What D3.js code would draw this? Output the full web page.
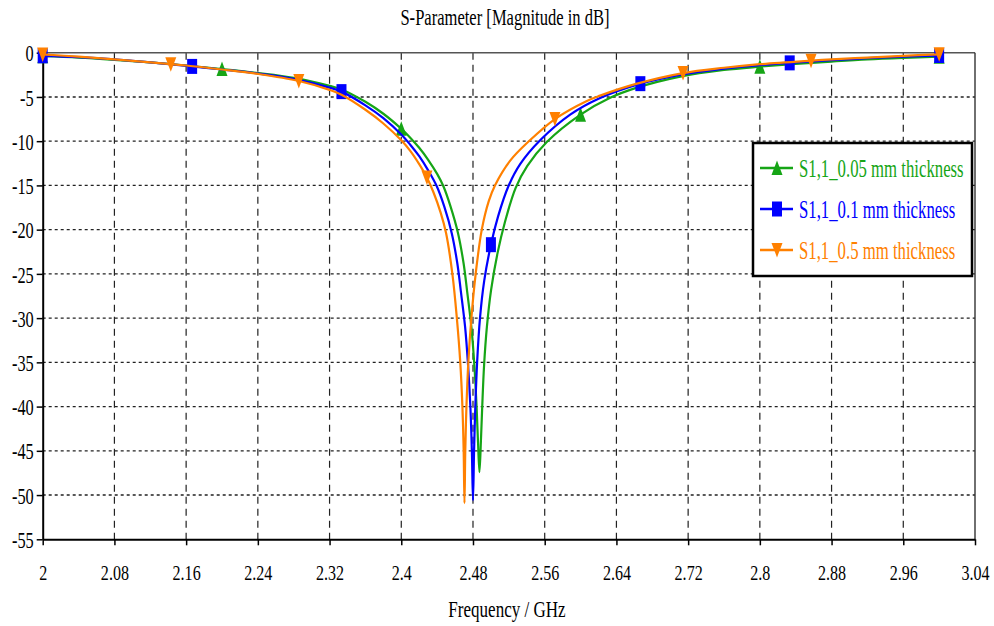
<!DOCTYPE html>
<html>
<head>
<meta charset="utf-8">
<script src="https://cdn.jsdelivr.net/npm/d3@7"></script>
<style>
  html, body { margin: 0; padding: 0; background: #ffffff; }
  svg { display: block; }
  text { font-family: "Liberation Serif", "Times New Roman", "DejaVu Serif", serif; }
</style>
</head>
<body>
<svg id="chart" width="994" height="626"></svg>
<script>
// ---- data -------------------------------------------------------------
const xTicks = [2, 2.08, 2.16, 2.24, 2.32, 2.4, 2.48, 2.56, 2.64, 2.72, 2.8, 2.88, 2.96, 3.04];
const xTickLabels = ["2", "2.08", "2.16", "2.24", "2.32", "2.4", "2.48", "2.56", "2.64", "2.72", "2.8", "2.88", "2.96", "3.04"];
const yTicks = [0, -5, -10, -15, -20, -25, -30, -35, -40, -45, -50, -55];

// S1,1 (dB) for the 0.05 mm substrate
const freq005 = [2.00, 2.04, 2.08, 2.12, 2.16, 2.20, 2.24, 2.28, 2.32, 2.3333, 2.36, 2.38, 2.40, 2.41, 2.42, 2.43, 2.44, 2.447, 2.455, 2.4633, 2.4695, 2.4735, 2.4782, 2.4815, 2.4840, 2.4856, 2.4872,
                 2.4888, 2.4903, 2.4924, 2.4955, 2.5002, 2.5075, 2.5155, 2.5275, 2.5406, 2.5623, 2.60, 2.633, 2.6629, 2.7111, 2.76, 2.80, 2.84, 2.88, 2.92, 2.96, 3.00];
const s11_005 = [-0.4, -0.55, -0.8, -1.1, -1.45, -1.85, -2.3, -2.85, -3.75, -4.15, -5.55, -6.9, -8.6, -9.6, -10.75, -12.1, -13.7, -15.1, -17.4, -20.4, -23.8, -27.0, -31.0, -35.3, -40.0, -44.0, -47.4,
                 -44.0, -40.0, -35.3, -31.0, -26.8, -22.6, -19.2, -15.3, -12.8, -10.1, -7.0, -5.1, -3.95, -2.7, -1.95, -1.58, -1.28, -1.0, -0.75, -0.58, -0.45];
const markers005 = [2.0, 2.2, 2.4, 2.6, 2.8, 3.0];

// S1,1 (dB) for the 0.1 mm substrate
const freq01 = [2.00, 2.04, 2.08, 2.12, 2.1667, 2.20, 2.24, 2.28, 2.32, 2.3333, 2.36, 2.38, 2.40, 2.41, 2.42, 2.43, 2.4396, 2.448, 2.4563, 2.4625, 2.4665, 2.4712, 2.4745, 2.4772, 2.4788, 2.4800,
                2.4812, 2.4826, 2.4846, 2.4878, 2.4925, 2.5000, 2.5080, 2.5195, 2.5326, 2.5549, 2.5884, 2.62, 2.6667, 2.7111, 2.76, 2.80, 2.8333, 2.88, 2.92, 2.96, 3.00];
const s11_01 = [-0.35, -0.5, -0.75, -1.1, -1.55, -1.9, -2.35, -2.95, -3.95, -4.4, -5.95, -7.4, -9.25, -10.4, -11.7, -13.3, -15.1, -17.4, -20.4, -23.8, -27.0, -31.0, -35.3, -40.3, -45.2, -50.6,
                -45.0, -40.0, -35.0, -30.0, -25.8, -21.7, -18.5, -15.1, -12.6, -9.9, -7.0, -5.2, -3.5, -2.5, -1.8, -1.4, -1.15, -0.85, -0.62, -0.45, -0.32];
const markers01 = [2.0, 2.1667, 2.3333, 2.5, 2.6667, 2.8333, 3.0];

// S1,1 (dB) for the 0.5 mm substrate
const freq05 = [2.00, 2.04, 2.08, 2.12, 2.1429, 2.16, 2.20, 2.24, 2.2857, 2.32, 2.3333, 2.36, 2.38, 2.40, 2.41, 2.42, 2.4286, 2.436, 2.444, 2.450, 2.457, 2.462, 2.4658, 2.4682, 2.4696, 2.4705,
                2.4714, 2.4727, 2.4748, 2.4782, 2.4830, 2.4898, 2.4975, 2.5045, 2.5215, 2.5435, 2.5714, 2.607, 2.6218, 2.6629, 2.7143, 2.76, 2.80, 2.8571, 2.88, 2.92, 2.96, 3.00];
const s11_05 = [-0.2, -0.45, -0.75, -1.1, -1.3, -1.45, -1.9, -2.4, -3.2, -4.2, -4.75, -6.45, -8.0, -9.9, -11.1, -12.6, -14.1, -15.8, -18.1, -20.4, -25.0, -30.0, -35.0, -40.0, -45.0, -50.9,
                -45.0, -40.0, -35.0, -30.0, -25.0, -20.0, -16.8, -15.0, -12.2, -9.9, -7.5, -5.45, -4.85, -3.5, -2.3, -1.7, -1.3, -0.9, -0.76, -0.55, -0.35, -0.18];
const markers05 = [2.0, 2.1429, 2.2857, 2.4286, 2.5714, 2.7143, 2.8571, 3.0];

const seriesNames = ["S1,1_0.05 mm thickness", "S1,1_0.1 mm thickness", "S1,1_0.5 mm thickness"];
const seriesColors = ["#16a516", "#0000ff", "#ff8000"];
const seriesShapes = ["up", "square", "down"];

const series = [
  { name: seriesNames[0], color: seriesColors[0], shape: seriesShapes[0], f: freq005, v: s11_005, m: markers005 },
  { name: seriesNames[1], color: seriesColors[1], shape: seriesShapes[1], f: freq01, v: s11_01, m: markers01 },
  { name: seriesNames[2], color: seriesColors[2], shape: seriesShapes[2], f: freq05, v: s11_05, m: markers05 }
];

// ---- layout -----------------------------------------------------------
const svg = d3.select("#chart");
const plot = { left: 42.7, right: 975, top: 52.7, bottom: 539.3 };

const x = d3.scaleLinear().domain([2, 3.04]).range([plot.left, plot.right]);
const y = d3.scaleLinear().domain([0, -55]).range([plot.top, plot.bottom]);

// tall, narrow serif text
function stext(parent, tx, ty, str, size, sx, anchor, color) {
  return parent.append("text")
    .attr("transform", `translate(${tx},${ty}) scale(${sx},1)`)
    .attr("text-anchor", anchor)
    .style("font-size", size + "px")
    .attr("fill", color || "#000")
    .text(str);
}

// title and axis title
stext(svg, 505, 25, "S-Parameter [Magnitude in dB]", 23, 0.72, "middle");
stext(svg, 507, 617, "Frequency / GHz", 24, 0.71, "middle");

// grid: dotted horizontals, dashed verticals
const grid = svg.append("g");
grid.selectAll("line.h").data(yTicks.filter(d => d < 0 && d > -55)).join("line")
  .attr("x1", plot.left).attr("x2", plot.right)
  .attr("y1", d => y(d)).attr("y2", d => y(d))
  .attr("stroke", "#222").attr("stroke-width", 1.4).attr("stroke-dasharray", "3,3");
grid.selectAll("line.v").data(xTicks.filter(d => d > 2 && d < 3.04)).join("line")
  .attr("x1", d => x(d)).attr("x2", d => x(d))
  .attr("y1", plot.top).attr("y2", plot.bottom)
  .attr("stroke", "#222").attr("stroke-width", 1.2).attr("stroke-dasharray", "7,5");

// top and right frame
svg.append("line").attr("x1", plot.left).attr("x2", plot.right).attr("y1", plot.top).attr("y2", plot.top)
  .attr("stroke", "#555").attr("stroke-width", 1.6);
svg.append("line").attr("x1", plot.right).attr("x2", plot.right).attr("y1", plot.top).attr("y2", plot.bottom)
  .attr("stroke", "#333").attr("stroke-width", 1.4);

// axes
const xAxis = d3.axisBottom(x).tickValues(xTicks).tickFormat((d, i) => xTickLabels[i]).tickSize(6).tickSizeOuter(0);
const yAxis = d3.axisLeft(y).tickValues(yTicks).tickFormat(d => String(d)).tickSize(6).tickSizeOuter(0);

const gx = svg.append("g").attr("transform", `translate(0,${plot.bottom})`).call(xAxis);
const gy = svg.append("g").attr("transform", `translate(${plot.left},0)`).call(yAxis);

[gx, gy].forEach(g => {
  g.select(".domain").attr("stroke", "#000").attr("stroke-width", 2);
  g.selectAll(".tick line").attr("stroke", "#000").attr("stroke-width", 1.5);
  g.selectAll("text").attr("fill", "#000").style("font-family", '"Liberation Serif", "Times New Roman", "DejaVu Serif", serif');
});
gx.selectAll("text")
  .style("font-size", "22px")
  .attr("y", 25)
  .attr("transform", "scale(0.73,1)");
gy.selectAll("text")
  .style("font-size", "24px")
  .attr("x", -9 / 0.68)
  .attr("dy", "0.34em")
  .attr("transform", "scale(0.68,1)");

// marker shapes
function markerPath(shape) {
  if (shape === "up") return "M0,-7.5L5.5,7L-5.5,7Z";
  if (shape === "down") return "M0,7.5L5.5,-7L-5.5,-7Z";
  return "M-5,-7.5H5V7.5H-5Z";
}

// curves with their markers
const line = d3.line().x(d => x(d[0])).y(d => y(d[1])).curve(d3.curveCatmullRom.alpha(0.5));
const curves = svg.append("g");
series.forEach(s => {
  const pts = s.f.map((f, i) => [f, s.v[i]]);
  curves.append("path")
    .datum(pts)
    .attr("d", line)
    .attr("fill", "none")
    .attr("stroke", s.color)
    .attr("stroke-width", 2.2)
    .attr("stroke-linejoin", "round");
  const mpts = s.m.map(mf => pts.find(p => Math.abs(p[0] - mf) < 1e-3)).filter(Boolean);
  curves.append("g").selectAll("path").data(mpts).join("path")
    .attr("transform", d => `translate(${x(d[0])},${y(d[1])})`)
    .attr("d", markerPath(s.shape))
    .attr("fill", s.color);
});

// legend
const leg = svg.append("g");
leg.append("rect").attr("x", 753).attr("y", 143).attr("width", 219).attr("height", 133)
  .attr("fill", "#fff").attr("stroke", "#000").attr("stroke-width", 2.5);
series.forEach((s, i) => {
  const ly = 168 + i * 41;
  leg.append("line").attr("x1", 760).attr("x2", 793).attr("y1", ly).attr("y2", ly)
    .attr("stroke", s.color).attr("stroke-width", 2.4);
  leg.append("path").attr("transform", `translate(777,${ly})`).attr("d", markerPath(s.shape)).attr("fill", s.color);
  stext(leg, 799, ly + 8.5, s.name, 25, 0.67, "start", s.color);
});
</script>
</body>
</html>
